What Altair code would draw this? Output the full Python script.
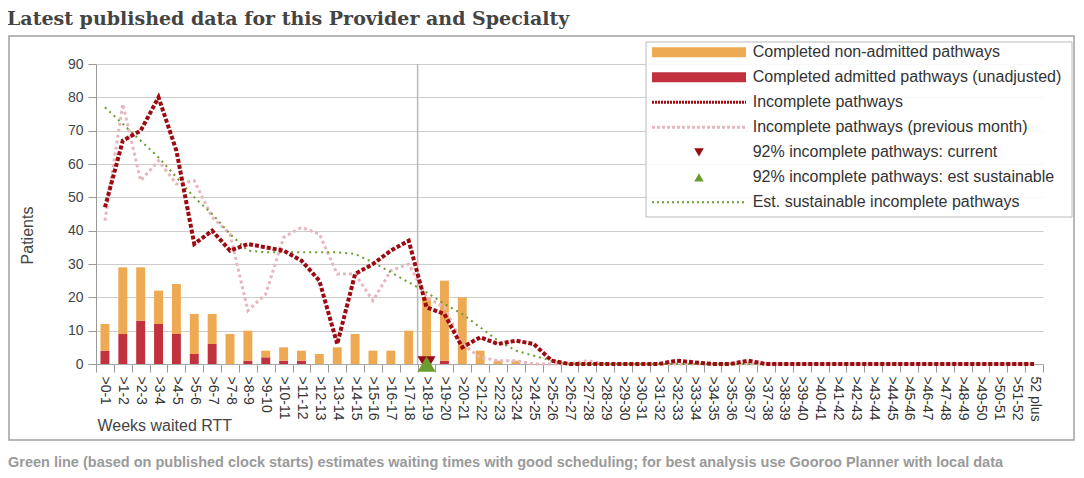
import altair as alt
import pandas as pd

# ---------------- data ----------------
categories = [f">{i}-{i+1}" for i in range(52)] + ["52 plus"]

admitted = [4, 9, 13, 12, 9, 3, 6, 0, 1, 2,
            1, 1, 0, 0, 0, 0, 0, 0, 0, 1,
            0, 0, 0, 0, 0, 0, 0, 0, 0, 0,
            0, 0, 0, 0, 0, 0, 0, 0, 0, 0,
            0, 0, 0, 0, 0, 0, 0, 0, 0, 0,
            0, 0, 0]

non_admitted = [8, 20, 16, 10, 15, 12, 9, 9, 9, 2,
                4, 3, 3, 5, 9, 4, 4, 10, 20, 24,
                20, 4, 1, 1, 0, 0, 0, 0, 0, 0,
                0, 0, 0, 0, 0, 0, 0, 0, 0, 0,
                0, 0, 0, 0, 0, 0, 0, 0, 0, 0,
                0, 0, 0]

incomplete = [47, 67, 70, 80, 64, 36, 40, 34, 36, 35,
              34, 31, 25, 6, 27, 30, 34, 37, 17, 15,
              5, 8, 6, 7, 6, 1, 0, 0, 0, 0,
              0, 0, 1, 0.5, 0, 0, 1, 0, 0, 0,
              0, 0, 0, 0, 0, 0, 0, 0, 0, 0,
              0, 0, 0]

incomplete_prev = [43, 78, 55, 61, 54, 55, 44, 39, 16, 21,
                   38, 41, 39, 27, 27, 19, 28, 30, 20, 17,
                   6, 2, 1, 1, 0, 0, 0, 1, 0, 0,
                   0, 0, 0, 0, 0, 0, 0, 0, 0, 0,
                   0, 0, 0, 0, 0, 0, 0, 0, 0, 0,
                   0, 0, 0]

sustainable = [77, 72, 67, 62, 56, 50, 45, 39, 34, 33.5,
               33.5, 33.5, 33.5, 33.5, 33, 30.5, 27.5, 24.5, 21.5, 18,
               15, 11, 7, 4, 2.5, 1, 0, 0, 0, 0,
               0, 0, 0, 0, 0, 0, 0, 0, 0, 0,
               0, 0, 0, 0, 0, 0, 0, 0, 0, 0,
               0, 0, 0]

threshold_category = ">18-19"      # 18-week boundary
marker_current = ">18-19"          # 92% incomplete pathways: current
marker_sustainable = ">18-19"      # 92% incomplete pathways: est sustainable

legend_labels = [
    "Completed non-admitted pathways",
    "Completed admitted pathways (unadjusted)",
    "Incomplete pathways",
    "Incomplete pathways (previous month)",
    "92% incomplete pathways: current",
    "92% incomplete pathways: est sustainable",
    "Est. sustainable incomplete pathways",
]

title_text = "Latest published data for this Provider and Specialty"
footnote_text = ("Green line (based on published clock starts) estimates waiting times with good "
                 "scheduling; for best analysis use Gooroo Planner with local data")

# ---------------- style ----------------
FONT = "Liberation Sans"
ORANGE = "#eeaa52"
RED = "#c1313e"
DARKRED = "#9c0a12"
PINK = "#e6b7be"
GREEN = "#6b9c2e"

lines_df = pd.DataFrame({"cat": categories, "incomplete": incomplete,
                         "previous": incomplete_prev, "sustainable": sustainable})
n = len(categories)
bars_df = pd.DataFrame({
    "cat": categories * 2,
    "series": [legend_labels[1]] * n + [legend_labels[0]] * n,
    "value": admitted + non_admitted,
    "ord": [0] * n + [1] * n,
})

xscale = alt.Scale(domain=categories, paddingInner=0, paddingOuter=0)
xaxis = alt.Axis(title="Weeks waited RTT", labelAngle=90, labelFontSize=14, labelColor="#333",
                 labelFont=FONT, labelPadding=4, labelOverlap=False, tickBand="extent",
                 tickSize=8, tickColor="#999", domainColor="#aaa", grid=False,
                 titleFont=FONT, titleFontSize=16, titleFontWeight="normal", titleColor="#444",
                 titleAlign="left", titleBaseline="alphabetic", titleX=1, titleY=66)
yscale = alt.Scale(domain=[0, 90], nice=False)
yaxis = alt.Axis(title="Patients", values=list(range(0, 100, 10)), tickCount=10,
                 labelFontSize=14, labelColor="#444", labelFont=FONT, labelPadding=5,
                 tickSize=8, tickColor="#999", domain=True, domainColor="#999",
                 gridColor="#cccccc", titleFont=FONT, titleFontSize=16,
                 titleFontWeight="normal", titleColor="#444", titleX=-69, titleY=171,
                 titleAlign="center", titleBaseline="middle")


def X(**kw):
    return alt.X("cat:N", scale=xscale, axis=xaxis, **kw)


def Y(field, **kw):
    return alt.Y(field, scale=yscale, axis=yaxis, **kw)


one = pd.DataFrame({"a": [0]})

frame = alt.Chart(one).mark_rect(filled=False, stroke="#a0a0a0", strokeWidth=1.5).encode(
    x=alt.value(-87), x2=alt.value(978), y=alt.value(-28), y2=alt.value(376))

title_mark = alt.Chart(one).mark_text(align="left", baseline="alphabetic", font="DejaVu Serif",
                                      fontSize=19, fontWeight="bold", color="#444").encode(
    x=alt.value(-89), y=alt.value(-39), text=alt.value(title_text))

week18 = alt.Chart(pd.DataFrame({"cat": [threshold_category], "top": [90], "bottom": [0]})).mark_rule(
    color="#b8b8b8", strokeWidth=1.5).encode(
    x=X(bandPosition=0), y=Y("top:Q"), y2="bottom:Q")

bars = alt.Chart(bars_df).mark_bar(width=alt.RelativeBandSize(0.5)).encode(
    x=X(), y=Y("value:Q", stack="zero"),
    color=alt.Color("series:N", scale=alt.Scale(domain=[legend_labels[1], legend_labels[0]],
                                                range=[RED, ORANGE]), legend=None),
    order=alt.Order("ord:Q"))

pink_line = alt.Chart(lines_df).mark_line(color=PINK, strokeWidth=3, strokeDash=[3, 3]).encode(
    x=X(), y=Y("previous:Q"))
green_line = alt.Chart(lines_df).mark_line(color=GREEN, strokeWidth=2, strokeDash=[2, 4]).encode(
    x=X(), y=Y("sustainable:Q"))
red_line = alt.Chart(lines_df).mark_line(color=DARKRED, strokeWidth=4, strokeDash=[4, 2]).encode(
    x=X(), y=Y("incomplete:Q"))

tri_cur = alt.Chart(pd.DataFrame({"cat": [marker_current], "v": [0]})).mark_point(
    shape="triangle-down", filled=True, size=324, color=DARKRED, opacity=1).encode(
    x=X(), y=Y("v:Q"))
tri_sus = alt.Chart(pd.DataFrame({"cat": [marker_sustainable], "v": [0]})).mark_point(
    shape="triangle-up", filled=True, size=324, color=GREEN, opacity=1).encode(
    x=X(), y=Y("v:Q"))

data_layer = alt.layer(bars, week18, pink_line, green_line, red_line, tri_cur, tri_sus)

# ---------------- legend ----------------
leg_df = pd.DataFrame({"label": legend_labels, "row": list(range(len(legend_labels)))})
LY = alt.Y("row:Q", scale=alt.Scale(domain=[0, 6], range=[-11.7, 138.3]), axis=None)

legend_box = alt.Chart(one).mark_rect(fill="white", fillOpacity=0.85, stroke="#bbbbbb",
                                      strokeWidth=1).encode(
    x=alt.value(550), x2=alt.value(976), y=alt.value(-22), y2=alt.value(153))

sym_parts = []
rule_styles = {0: (ORANGE, 10, None), 1: (RED, 10, None), 2: (DARKRED, 3, [2, 1]),
               3: (PINK, 3, [3, 2]), 6: (GREEN, 2, [2, 3])}
for r, (c, w, d) in rule_styles.items():
    kw = dict(color=c, strokeWidth=w)
    if d:
        kw["strokeDash"] = d
    sym_parts.append(alt.Chart(leg_df).transform_filter(alt.datum.row == r).mark_rule(**kw).encode(
        x=alt.value(556), x2=alt.value(650), y=LY))
for r, (shape, c) in {4: ("triangle-down", DARKRED), 5: ("triangle-up", GREEN)}.items():
    sym_parts.append(alt.Chart(leg_df).transform_filter(alt.datum.row == r).mark_point(
        shape=shape, filled=True, size=90, color=c, opacity=1).encode(x=alt.value(603), y=LY))

leg_text = alt.Chart(leg_df).mark_text(align="left", baseline="middle", fontSize=16,
                                       color="#333", font=FONT).encode(
    x=alt.value(656.7), y=LY, text="label:N")

legend_layer = alt.layer(*sym_parts, leg_text)

footnote = alt.Chart(one).mark_text(align="left", baseline="alphabetic", fontSize=14.5,
                                    fontWeight="bold", color="#9a9a9a", font=FONT).encode(
    x=alt.value(-88), y=alt.value(403), text=alt.value(footnote_text))

chart = alt.layer(frame, title_mark, data_layer, legend_box, legend_layer, footnote).resolve_scale(
    y="independent"
).properties(
    width=947, height=300,
    autosize=alt.AutoSizeParams(type="none"),
    padding={"left": 88, "top": 56, "right": 33, "bottom": 106},
    background="white",
).configure_view(stroke=None)

chart.save("out.html", embed_options={"renderer": "svg", "actions": False})
